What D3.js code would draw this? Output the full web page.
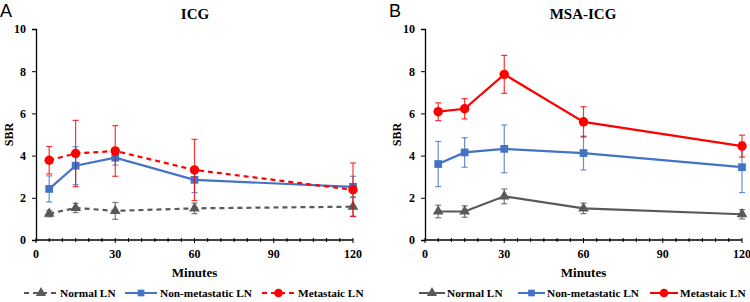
<!DOCTYPE html>
<html>
<head>
<meta charset="utf-8">
<script src="https://cdn.jsdelivr.net/npm/d3@7"></script>
<style>
  body { margin: 0; background: #fff; }
</style>
</head>
<body>
<svg id="chart" width="750" height="302"></svg>
<script>
let minutes = [5, 15, 30, 60, 120];

// panel A: ICG
let icgNormal = [1.25, 1.52, 1.38, 1.5, 1.58],
    icgNormalErr = [0.15, 0.22, 0.4, 0.25, 0.45],
    icgNonMet = [2.42, 3.52, 3.9, 2.85, 2.52],
    icgNonMetErr = [0.62, 0.9, 0.35, 0.6, 0.5],
    icgMet = [3.78, 4.1, 4.22, 3.32, 2.38],
    icgMetErr = [0.65, 1.57, 1.2, 1.45, 1.27];

// panel B: MSA-ICG
let msaNormal = [1.35, 1.35, 2.07, 1.5, 1.22],
    msaNormalErr = [0.3, 0.27, 0.35, 0.25, 0.22],
    msaNonMet = [3.6, 4.15, 4.32, 4.12, 3.45],
    msaNonMetErr = [1.07, 0.7, 1.13, 0.8, 1.2],
    msaMet = [6.08, 6.22, 7.85, 5.6, 4.45],
    msaMetErr = [0.42, 0.48, 0.9, 0.72, 0.52];

let yTicks = [0, 2, 4, 6, 8, 10],
    xTicks = [0, 30, 60, 90, 120],
    seriesNames = ["Normal LN", "Non-metastatic LN", "Metastaic LN"];

let colors = { gray: "#595959", blue: "#4472C4", red: "#FF0000" };
let serif = "'Liberation Serif', 'Times New Roman', Times, serif";

function make_series(normal, normalErr, nonMet, nonMetErr, met, metErr, dashed) {
  return [
    { name: seriesNames[0], vals: normal, err: normalErr, color: colors.gray, shape: "triangle", dash: dashed ? "5,4" : null },
    { name: seriesNames[1], vals: nonMet, err: nonMetErr, color: colors.blue, shape: "square", dash: null },
    { name: seriesNames[2], vals: met, err: metErr, color: colors.red, shape: "circle", dash: dashed ? "5,4" : null }
  ];
}

// legend entries: [line start, line end, text start]
let panels = [
  { letter: "A", title: "ICG", left: 36, right: 353, letterX: 0, labelX: 7, titleX: 195,
    series: make_series(icgNormal, icgNormalErr, icgNonMet, icgNonMetErr, icgMet, icgMetErr, true),
    legend: [[24, 58, 60], [125, 157, 160], [262, 295, 298]] },
  { letter: "B", title: "MSA-ICG", left: 425, right: 742, letterX: 389, labelX: 395, titleX: 583,
    series: make_series(msaNormal, msaNormalErr, msaNonMet, msaNonMetErr, msaMet, msaMetErr, false),
    legend: [[419, 445, 447], [518, 545, 547], [650, 678, 680]] }
];

let svg = d3.select("#chart");
let plotTop = 29, plotBottom = 240;

function symbol(shape, size) {
  let t = shape == "triangle" ? d3.symbolTriangle : shape == "square" ? d3.symbolSquare : d3.symbolCircle;
  return d3.symbol().type(t).size(size)();
}

function bold_text(sel, size) {
  return sel.attr("font-family", serif).attr("font-weight", "bold").attr("font-size", size);
}

function draw_panel(p) {
  let x = d3.scaleLinear().domain([0, 120]).range([p.left, p.right]);
  let y = d3.scaleLinear().domain([0, 10]).range([plotBottom, plotTop]);
  let g = svg.append("g");

  g.append("text").attr("x", p.letterX).attr("y", 17)
    .attr("font-family", "'Liberation Sans', Arial, sans-serif")
    .attr("font-size", 18).text(p.letter);
  bold_text(g.append("text"), 15).attr("x", p.titleX).attr("y", 19).attr("text-anchor", "middle").text(p.title);

  // y axis
  let yAxis = d3.axisLeft(y).tickValues(yTicks).tickSize(4).tickPadding(6);
  let ya = g.append("g").attr("transform", `translate(${p.left},0)`).call(yAxis);
  ya.select(".domain").attr("stroke", "#000").attr("stroke-width", 1.3);
  bold_text(ya.selectAll("text"), 12);

  // x axis with minor ticks every 5
  let xa = g.append("g").attr("transform", `translate(0,${plotBottom})`);
  xa.append("line").attr("x1", p.left).attr("x2", p.right).attr("stroke", "#000").attr("stroke-width", 1.3);
  xa.selectAll(".minor").data(d3.range(0, 121, 5)).enter().append("line")
    .attr("x1", d => x(d)).attr("x2", d => x(d))
    .attr("y1", -2).attr("y2", d => d % 30 == 0 ? 3 : 2)
    .attr("stroke", "#000").attr("stroke-width", 1);
  bold_text(xa.selectAll(".lbl").data(xTicks).enter().append("text"), 12)
    .attr("x", d => x(d)).attr("y", 18).attr("text-anchor", "middle").text(d => d);

  bold_text(g.append("text"), 13).attr("x", (p.left + p.right) / 2).attr("y", 277)
    .attr("text-anchor", "middle").text("Minutes");
  bold_text(g.append("text"), 12)
    .attr("transform", `translate(${p.labelX + 6},${(plotTop + plotBottom) / 2}) rotate(-90)`)
    .attr("text-anchor", "middle").text("SBR");

  let line = d3.line().x((d, i) => x(minutes[i])).y(d => y(d));

  p.series.forEach(s => {
    let sg = g.append("g");
    // error bars
    s.vals.forEach((v, i) => {
      let cx = x(minutes[i]), lo = y(v - s.err[i]), hi = y(v + s.err[i]);
      sg.append("line").attr("x1", cx).attr("x2", cx).attr("y1", lo).attr("y2", hi)
        .attr("stroke", s.color).attr("stroke-opacity", 0.8).attr("stroke-width", 1.2);
      [lo, hi].forEach(yy => sg.append("line").attr("x1", cx - 3).attr("x2", cx + 3)
        .attr("y1", yy).attr("y2", yy).attr("stroke", s.color).attr("stroke-opacity", 0.8).attr("stroke-width", 1.2));
    });
    sg.append("path").attr("d", line(s.vals)).attr("fill", "none")
      .attr("stroke", s.color).attr("stroke-width", 2.2).attr("stroke-dasharray", s.dash);
    sg.selectAll(".pt").data(s.vals).enter().append("path")
      .attr("transform", (d, i) => `translate(${x(minutes[i])},${y(d)})`)
      .attr("d", symbol(s.shape, s.shape == "circle" ? 70 : s.shape == "square" ? 60 : 50))
      .attr("fill", s.color);
  });

  // legend
  p.series.forEach((s, i) => {
    let [x1, x2, tx] = p.legend[i], ly = 293;
    g.append("line").attr("x1", x1).attr("x2", x2).attr("y1", ly).attr("y2", ly)
      .attr("stroke", s.color).attr("stroke-width", 2).attr("stroke-dasharray", s.dash);
    g.append("path").attr("transform", `translate(${(x1 + x2) / 2},${ly})`)
      .attr("d", symbol(s.shape, s.shape == "circle" ? 60 : 45)).attr("fill", s.color);
    bold_text(g.append("text"), 11.3).attr("x", tx).attr("y", ly + 4).text(s.name);
  });
}

panels.forEach(draw_panel);
</script>
</body>
</html>
